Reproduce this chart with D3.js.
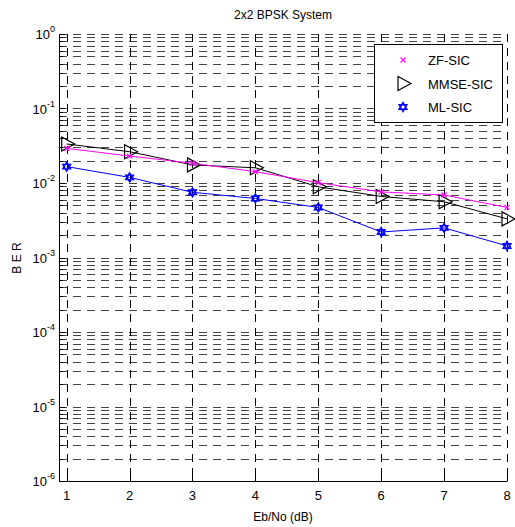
<!DOCTYPE html>
<html>
<head>
<meta charset="utf-8">
<script src="https://cdn.jsdelivr.net/npm/d3@7"></script>
<style>
  body { margin: 0; background: #fff; }
  svg text { font-family: "Liberation Sans", Arial, sans-serif; }
</style>
</head>
<body>
<div id="chart"></div>
<script>
// Eb/No values (dB)
var ebno = [1, 2, 3, 4, 5, 6, 7, 8];

// BER per detector
var zfSic = [0.0292, 0.0230, 0.0184, 0.0142, 0.0101, 0.0076, 0.0069, 0.0047];
var mmseSic = [0.0334, 0.0263, 0.0175, 0.0160, 0.0089, 0.0066, 0.0056, 0.0033];
var mlSic = [0.0166, 0.0119, 0.0075, 0.0062, 0.0047, 0.0022, 0.0025, 0.00143];

var seriesNames = ['ZF-SIC', 'MMSE-SIC', 'ML-SIC'];
var seriesColors = ['#ff00ff', '#000000', '#0000ff'];
var yDecades = [-6, -5, -4, -3, -2, -1, 0];

var width = 515, height = 527;
// plot box (note: "top" is a reserved window prop, so prefix these)
var pLeft = 59, pRight = 507, pTop = 34, pBottom = 481;

var svg = d3.select('#chart').append('svg')
    .attr('width', width)
    .attr('height', height);

var x = d3.scaleLinear().domain([0.878, 8]).range([pLeft, pRight]);
var y = d3.scaleLog().domain([1e-6, 1]).range([pBottom, pTop]);

// grid values: every 1..9 x 10^k
var gridVals = [];
yDecades.forEach(function(k){
    if(k == 0){ gridVals.push(1); return; }
    for(var m = 1; m <= 9; m++){ gridVals.push(m * Math.pow(10, k)); }
});

var grid = svg.append('g')
    .attr('stroke', '#444')
    .attr('stroke-width', 1)
    .attr('stroke-dasharray', '8,6')
    .attr('fill', 'none');

grid.selectAll('line.h')
    .data(gridVals.filter(function(v){ return v > 1e-6; }))
    .enter().append('line')
        .attr('class', 'h')
        .attr('x1', pLeft).attr('x2', pRight)
        .attr('y1', function(d){ return Math.round(y(d)) + 0.5; })
        .attr('y2', function(d){ return Math.round(y(d)) + 0.5; });

grid.selectAll('line.v')
    .data(ebno)
    .enter().append('line')
        .attr('class', 'v')
        .attr('stroke', '#000')
        .attr('x1', function(d){ return Math.round(x(d)) + 0.5; })
        .attr('x2', function(d){ return Math.round(x(d)) + 0.5; })
        .attr('y1', pTop).attr('y2', pBottom);

// axes lines
var axes = svg.append('g').attr('stroke', '#000').attr('stroke-width', 1);
axes.append('line').attr('x1', pLeft + 0.5).attr('x2', pLeft + 0.5).attr('y1', pTop).attr('y2', pBottom + 0.5);
axes.append('line').attr('x1', pLeft).attr('x2', pRight + 0.5).attr('y1', pBottom + 0.5).attr('y2', pBottom + 0.5);

// y ticks (inward)
axes.selectAll('line.yt')
    .data(gridVals)
    .enter().append('line')
        .attr('x1', pLeft)
        .attr('x2', function(d){ return Math.abs(Math.log10(d) % 1) < 1e-9 ? pLeft + 6 : pLeft + 4; })
        .attr('y1', function(d){ return Math.round(y(d)) + 0.5; })
        .attr('y2', function(d){ return Math.round(y(d)) + 0.5; });

// x ticks (inward)
axes.selectAll('line.xt')
    .data(ebno)
    .enter().append('line')
        .attr('x1', function(d){ return Math.round(x(d)) + 0.5; })
        .attr('x2', function(d){ return Math.round(x(d)) + 0.5; })
        .attr('y1', pBottom)
        .attr('y2', pBottom - 6);

// x tick labels
svg.append('g').selectAll('text')
    .data(ebno)
    .enter().append('text')
        .attr('x', function(d){ return x(d); })
        .attr('y', 500)
        .attr('text-anchor', 'middle')
        .attr('font-size', 13)
        .text(function(d){ return d; });

// y tick labels 10^k
var yl = svg.append('g').selectAll('text')
    .data(yDecades)
    .enter().append('text')
        .attr('x', 55)
        .attr('y', function(d){ return y(Math.pow(10, d)) + 5; })
        .attr('text-anchor', 'end')
        .attr('font-size', 13);
yl.append('tspan').text('10');
yl.append('tspan')
    .attr('dy', -7)
    .attr('font-size', 9)
    .text(function(d){ return d; });

// title and labels
svg.append('text').attr('x', 283).attr('y', 19).attr('text-anchor', 'middle')
    .attr('font-size', 12).text('2x2 BPSK System');
svg.append('text').attr('x', 283).attr('y', 521).attr('text-anchor', 'middle')
    .attr('font-size', 12).text('Eb/No (dB)');
svg.append('text').attr('transform', 'translate(21,258) rotate(-90)')
    .attr('text-anchor', 'middle').attr('font-size', 12).text('B E R');

// markers
function drawMarker(g, type, color){
    if(type == 0){
        g.append('path').attr('d', 'M-2.5,-2.5L2.5,2.5M-2.5,2.5L2.5,-2.5')
            .attr('stroke', color).attr('stroke-width', 1.2).attr('fill', 'none');
    } else if(type == 1){
        g.append('path').attr('d', 'M-5,-7L8,0L-5,7Z')
            .attr('stroke', color).attr('stroke-width', 1.2).attr('fill', 'none');
    } else {
        var r = 4.5;
        var t1 = [], t2 = [];
        for(var i = 0; i < 3; i++){
            var a1 = -Math.PI / 2 + i * 2 * Math.PI / 3;
            var a2 = Math.PI / 2 + i * 2 * Math.PI / 3;
            t1.push([r * Math.cos(a1), r * Math.sin(a1)]);
            t2.push([r * Math.cos(a2), r * Math.sin(a2)]);
        }
        var line = d3.line();
        g.append('path').attr('d', line(t1) + 'Z')
            .attr('stroke', color).attr('stroke-width', 1.4).attr('fill', 'none');
        g.append('path').attr('d', line(t2) + 'Z')
            .attr('stroke', color).attr('stroke-width', 1.4).attr('fill', 'none');
    }
}

var allSeries = [zfSic, mmseSic, mlSic];
var drawOrder = [2, 1, 0];
var lineGen = d3.line()
    .x(function(d, i){ return x(ebno[i]); })
    .y(function(d){ return y(d); });

drawOrder.forEach(function(s){
    var g = svg.append('g');
    g.append('path')
        .datum(allSeries[s])
        .attr('d', lineGen)
        .attr('fill', 'none')
        .attr('stroke', seriesColors[s])
        .attr('stroke-width', 1);
    allSeries[s].forEach(function(v, i){
        var mg = g.append('g').attr('transform', 'translate(' + x(ebno[i]) + ',' + y(v) + ')');
        drawMarker(mg, s, seriesColors[s]);
    });
});

// legend
var legend = svg.append('g');
legend.append('rect')
    .attr('x', 374.5).attr('y', 44.5)
    .attr('width', 128).attr('height', 78)
    .attr('fill', '#fff').attr('stroke', '#000').attr('stroke-width', 1);
seriesNames.forEach(function(name, i){
    var ly = 60 + i * 23.5;
    var mg = legend.append('g').attr('transform', 'translate(403,' + ly + ')');
    drawMarker(mg, i, seriesColors[i]);
    legend.append('text')
        .attr('x', 428).attr('y', ly + 5)
        .attr('font-size', 13)
        .text(name);
});
</script>
</body>
</html>
